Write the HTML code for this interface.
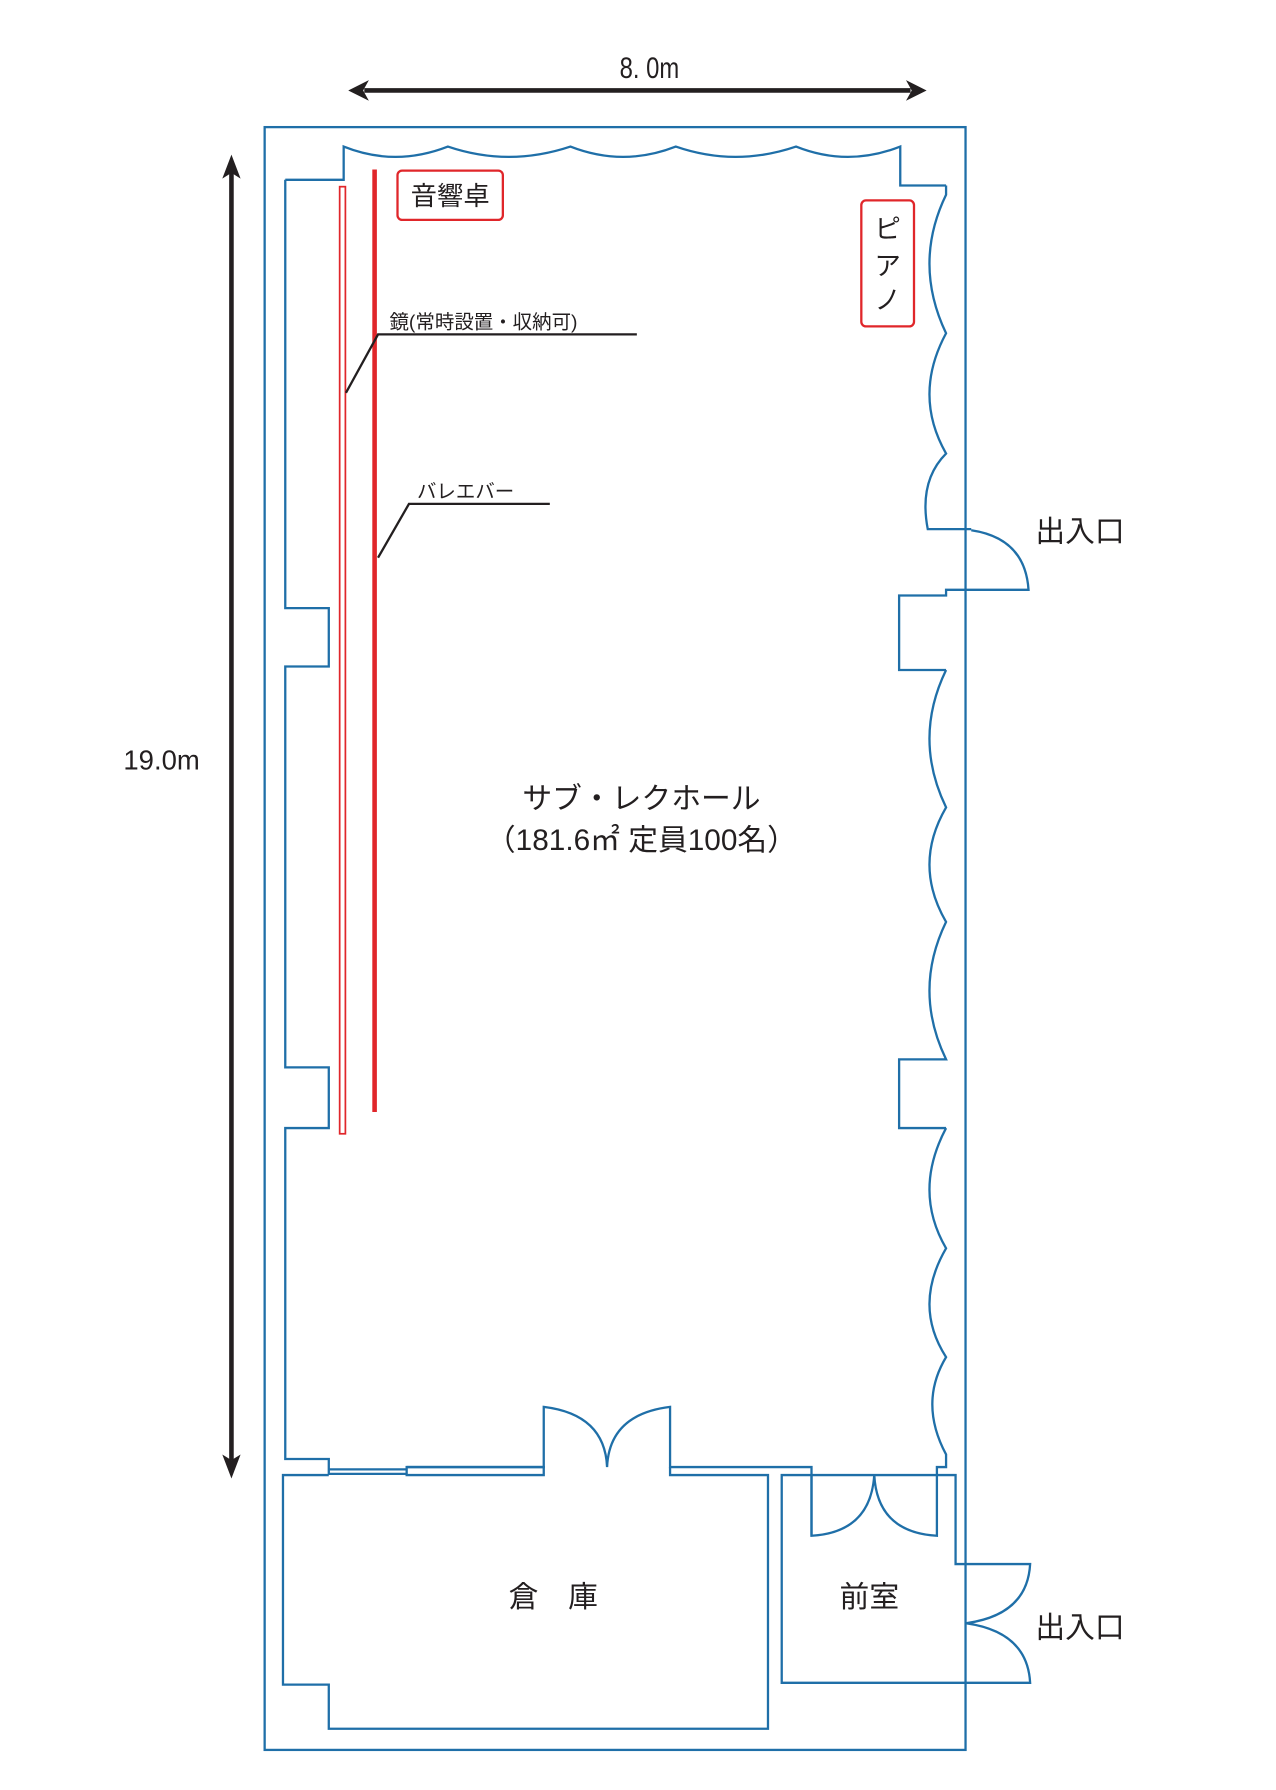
<!DOCTYPE html>
<html><head><meta charset="utf-8"><style>
html,body{margin:0;padding:0;background:#fff;}
svg{display:block;}
text{font-family:"Liberation Sans","Noto Sans CJK JP",sans-serif;fill:#231f20;}
</style></head><body>
<svg width="1276" height="1790" viewBox="0 0 1114 1563" xmlns="http://www.w3.org/2000/svg">
<g fill="none" stroke="#1f6fa8" stroke-width="2">
<rect x="231" y="111" width="612" height="1417"/>
<path d="M249,157 H300 V128 Q345,146 391,128 Q444,146 498,128 Q544,146 590,128 Q642,146 695,128 Q740,146 786,128 V162 H826"/>
<path d="M826,162 L826,170 Q797,230 826,291 Q797,345 826,396 Q802,420 810,462 H848"/>
<path d="M848,463 Q895,470 898,515 H826 V520 H785 V585 H826"/>
<path d="M826,585 Q797,645 826,705 Q797,755 826,805 Q797,865 826,925 H785 V985 H826"/>
<path d="M826,985 Q797,1040 826,1090 Q797,1140 826,1185 Q802,1225 826,1270 V1281 H818 V1288"/>
<path d="M249,157 V531 H287 V582 H249 V932 H287 V985 H249 V1274 H287 V1288"/>
<path d="M287,1283 H355 M287,1287 H355"/>
<path d="M355,1281 V1288 H474.7 V1281 Z"/>
<path d="M355,1281 H474.7 V1228.5 Q528,1235 530,1281 Q532,1235 585,1228.5 V1281 H708.5 V1341"/>
<path d="M585,1281 V1288 H670.5 V1509.5 H287 V1471 H247 V1288 H287"/>
<path d="M682.5,1288 H834.3 V1365.7 H899.4 Q897,1410 843.4,1417.4 Q897,1425 899.4,1469.4 H682.5 Z"/>
<path d="M708.5,1288 V1341 Q760,1338 763.3,1288 Q766,1338 818,1341 V1288"/>
</g>
<rect x="296.5" y="163" width="5" height="827" fill="none" stroke="#e0262a" stroke-width="1.5"/>
<line x1="327" y1="148" x2="327" y2="971" stroke="#e0262a" stroke-width="4"/>
<rect x="347" y="149" width="92" height="43" rx="4" fill="none" stroke="#e0262a" stroke-width="2"/>
<rect x="752" y="175" width="46" height="110" rx="4" fill="none" stroke="#e0262a" stroke-width="2"/>
<path d="M302,343 L330,292 H556 M330,487 L357,440 H480" fill="none" stroke="#231f20" stroke-width="2"/>
<g stroke="#231f20" stroke-width="4" fill="#231f20">
<line x1="318" y1="79" x2="795" y2="79"/>
<line x1="202" y1="150" x2="202" y2="1275"/>
</g>
<g fill="#231f20">
<path d="M304,79 L322,70 L317,79 L322,88 Z"/>
<path d="M809,79 L791,70 L796,79 L791,88 Z"/>
<path d="M202,135 L194,156 L202,151 L210,156 Z"/>
<path d="M202,1291 L194,1270 L202,1275 L210,1270 Z"/>
</g>
<text x="567" y="68" font-size="26" text-anchor="middle" font-family="Liberation Mono, monospace" transform="translate(567,0) scale(0.8,1) translate(-567,0)">8. 0m</text>
<text x="141" y="672" font-size="24" text-anchor="middle">19.0m</text>
<text x="393" y="179" font-size="23" text-anchor="middle">音響卓</text>
<text x="775" y="208" font-size="23" text-anchor="middle">ピ</text>
<text x="775" y="240" font-size="23" text-anchor="middle">ア</text>
<text x="775" y="270" font-size="23" text-anchor="middle">ノ</text>
<text x="340" y="287" font-size="17">鏡(常時設置・収納可)</text>
<text x="364" y="435" font-size="17">バレエバー</text>
<text x="560" y="706" font-size="26" text-anchor="middle">サブ・レクホール</text>
<text x="560" y="742" font-size="26" text-anchor="middle">（181.6㎡ 定員100名）</text>
<text x="943" y="473" font-size="26" text-anchor="middle">出入口</text>
<text x="943" y="1430" font-size="26" text-anchor="middle">出入口</text>
<text x="483" y="1403" font-size="26" text-anchor="middle">倉　庫</text>
<text x="759" y="1403" font-size="26" text-anchor="middle">前室</text>
</svg>
</body></html>
